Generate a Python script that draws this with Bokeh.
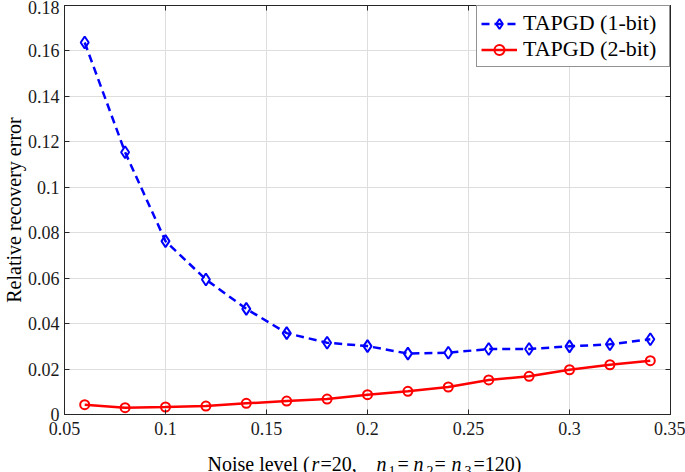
from bokeh.plotting import figure
from bokeh.layouts import column
from bokeh.models import (Range1d, FixedTicker, CustomJSTickFormatter, LinearAxis, ColumnDataSource, Title)
from bokeh.core.properties import value
from bokeh.embed import file_html
from bokeh.resources import INLINE

# ---- data ----
noise = [0.06, 0.08, 0.10, 0.12, 0.14, 0.16, 0.18, 0.20, 0.22, 0.24, 0.26, 0.28, 0.30, 0.32, 0.34]
err_1bit = [0.1637, 0.1154, 0.0763, 0.0594, 0.0465, 0.0358, 0.0316, 0.0301, 0.0268, 0.0272,
            0.0288, 0.0288, 0.0300, 0.0309, 0.0331]
err_2bit = [0.0043, 0.0030, 0.0033, 0.0037, 0.0049, 0.0059, 0.0068, 0.0087, 0.0102, 0.0121,
            0.0152, 0.0168, 0.0197, 0.0219, 0.0237]
series_names = ["TAPGD (1-bit)", "TAPGD (2-bit)"]
x_ticks = [0.05, 0.10, 0.15, 0.20, 0.25, 0.30, 0.35]
y_ticks = [0.0, 0.02, 0.04, 0.06, 0.08, 0.10, 0.12, 0.14, 0.16, 0.18]
y_label = "Relative recovery error"
# x-axis title pieces: (text, style, kind)
xlabel_parts = [("Noise level ( ", "normal", "main"), ("r", "italic", "main"),
                ("=20,", "normal", "main"), ("n", "italic", "main"), ("1", "normal", "sub"),
                ("=", "normal", "main"), ("n", "italic", "main"), ("2", "normal", "sub"),
                ("=", "normal", "main"), ("n", "italic", "main"), ("3", "normal", "sub"),
                ("=120)", "normal", "main")]

# ---- layout (pixels) ----
FONT = "Liberation Serif"
AX = "#262626"
GRID = "#dedede"
W, H = 685, 472
H_XL = 30
FL, FR, FT, FB = 64, 670, 5, 414          # frame edges on the page
X0, X1 = 0.05, 0.35
Y0, Y1 = 0.0, 0.18
# left edge (px) of each x-title piece on the page
xlabel_px = [207, 311, 320, 376, 388, 397, 413, 426, 434, 451, 464, 473]

def px_to_x(px):
    return X0 + (px - FL) * (X1 - X0) / (FR - FL)

H_MAIN = H - H_XL
p = figure(width=W, height=H_MAIN, output_backend="svg", toolbar_location=None,
           x_range=Range1d(X0, X1), y_range=Range1d(Y0, Y1),
           min_border_left=FL, min_border_right=W - FR, min_border_top=FT,
           min_border_bottom=H_MAIN - FB)
p.background_fill_color = "white"
p.border_fill_color = "white"
p.outline_line_color = AX
p.outline_line_width = 1

fmt = CustomJSTickFormatter(code="return Number(tick.toFixed(4)).toString();")

def style_axis(ax, ticks, show_labels=True, standoff=6):
    ax.ticker = FixedTicker(ticks=ticks)
    ax.formatter = fmt
    ax.axis_line_color = AX
    ax.major_tick_line_color = AX
    ax.major_tick_in = 5
    ax.major_tick_out = 0
    ax.minor_tick_line_color = None
    ax.major_label_text_font = FONT
    ax.major_label_text_color = "#1a1a1a"
    if show_labels:
        ax.major_label_text_font_size = "18px"
        ax.major_label_standoff = standoff
    else:
        ax.major_label_text_font_size = "0px"
        ax.major_label_standoff = 0
        ax.major_label_text_alpha = 0

style_axis(p.xaxis[0], x_ticks, standoff=7)
style_axis(p.yaxis[0], y_ticks, standoff=5)

top_ax = LinearAxis()
right_ax = LinearAxis()
style_axis(top_ax, x_ticks, False)
style_axis(right_ax, y_ticks, False)
p.add_layout(top_ax, "above")
p.add_layout(right_ax, "right")

# y-axis title as a side title (vertical text, outside the tick labels)
p.add_layout(Title(text=y_label, align="center", text_font=FONT, text_font_size="20px",
                   text_font_style="normal", text_color="black", standoff=0, offset=0),
             "left")

p.xgrid.ticker = FixedTicker(ticks=x_ticks)
p.ygrid.ticker = FixedTicker(ticks=y_ticks)
for g in (p.xgrid[0], p.ygrid[0]):
    g.grid_line_color = GRID
    g.grid_line_width = 1

# ---- series ----
p.line(noise, err_1bit, line_color="#0000FF", line_width=2.5, line_dash="8 5",
       legend_label=series_names[0])
p.scatter(noise, err_1bit, marker="diamond", size=12, line_color="#0000FF", line_width=2,
          fill_color=None, legend_label=series_names[0])
p.line(noise, err_2bit, line_color="#FF0000", line_width=2.5, legend_label=series_names[1])
p.scatter(noise, err_2bit, marker="circle", size=9, line_color="#FF0000", line_width=2,
          fill_color=None, legend_label=series_names[1])

lg = p.legend[0]
lg.location = "top_right"
lg.margin = 0
lg.padding = 4
lg.spacing = 0
lg.glyph_width = 36
lg.glyph_height = 25
lg.label_height = 25
lg.label_width = 142
lg.label_standoff = 6
lg.label_text_font = FONT
lg.label_text_font_size = "22px"
lg.label_text_color = "black"
lg.border_line_color = AX
lg.border_line_width = 1
lg.background_fill_color = "white"
lg.background_fill_alpha = 1

# ---- x-axis title strip ----
xl = figure(width=W, height=H_XL, output_backend="svg", toolbar_location=None,
            x_range=p.x_range, y_range=Range1d(0, H_XL),
            x_axis_location=None, y_axis_location=None,
            min_border_left=FL, min_border_right=W - FR, min_border_top=0, min_border_bottom=0)
xl.grid.visible = False
xl.outline_line_color = None
xl.background_fill_color = "white"
xl.border_fill_color = "white"

groups = {}
for (txt, style, kind), px in zip(xlabel_parts, xlabel_px):
    g = groups.setdefault((style, kind), {"x": [], "y": [], "t": []})
    g["x"].append(px_to_x(px))
    g["y"].append(9 if kind == "main" else 2)
    g["t"].append(txt)
for (style, kind), g in groups.items():
    xl.text(x="x", y="y", text="t", source=ColumnDataSource(g),
            text_font=value(FONT), text_font_style=style,
            text_font_size="20px" if kind == "main" else "14px",
            text_align="left", text_baseline="alphabetic", text_color="black")

layout = column(p, xl, spacing=0)
open("out.html", "w").write(file_html(layout, INLINE))
